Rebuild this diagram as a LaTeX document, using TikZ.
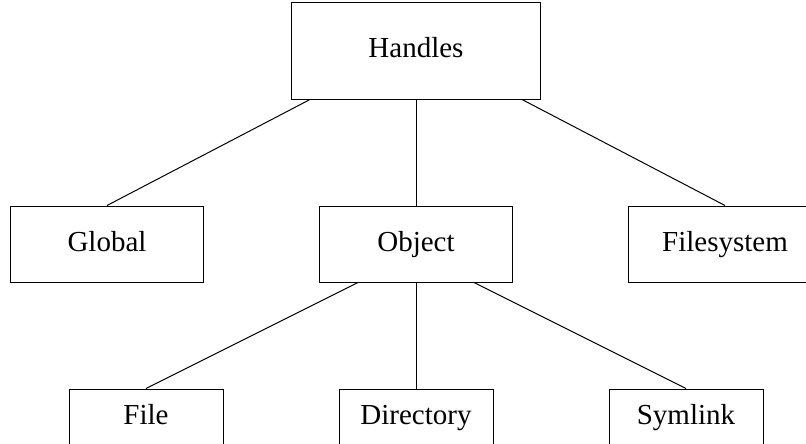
\documentclass[tikz,border=0pt]{standalone}
\usepackage{fontspec}
\setmainfont{Liberation Serif}
\usetikzlibrary{positioning}

\begin{document}
\begin{tikzpicture}
    [
        x=1pt, y=1pt,
        basic/.style = {draw, line width=1pt, text centered, inner sep=0pt, text height=20pt, text depth=6pt, font=\fontsize{29}{34}\selectfont},
        rootbox/.style = {basic, minimum width=249pt, minimum height=96pt},
        groupbox/.style = {basic, minimum width=193pt, minimum height=76pt},
        leafbox/.style = {basic, minimum width=154pt, minimum height=80pt, text depth=30pt},
        link/.style = {line width=1pt},
        node distance=106pt and 115pt
    ]
    \useasboundingbox (0,0) rectangle (806,-444);
    \clip (0,0) rectangle (806,-444);

    \node [rootbox] (handles) at (416,-51) {Handles};
    \node [groupbox, below=of handles] (object) {Object};
    \node [groupbox, left=of object] (global) {Global};
    \node [groupbox, right=of object] (filesystem) {Filesystem};

    \node [leafbox, below=of object] (directory) {Directory};
    \node [leafbox, left=of directory] (file) {File};
    \node [leafbox, right=of directory] (symlink) {Symlink};

    \draw [link] ([xshift=-106pt]handles.south) -- (global.north);
    \draw [link] (handles.south) -- (object.north);
    \draw [link] ([xshift=106pt]handles.south) -- (filesystem.north);

    \draw [link] ([xshift=-58pt]object.south) -- (file.north);
    \draw [link] (object.south) -- (directory.north);
    \draw [link] ([xshift=58pt]object.south) -- (symlink.north);

\end{tikzpicture}
\end{document}
